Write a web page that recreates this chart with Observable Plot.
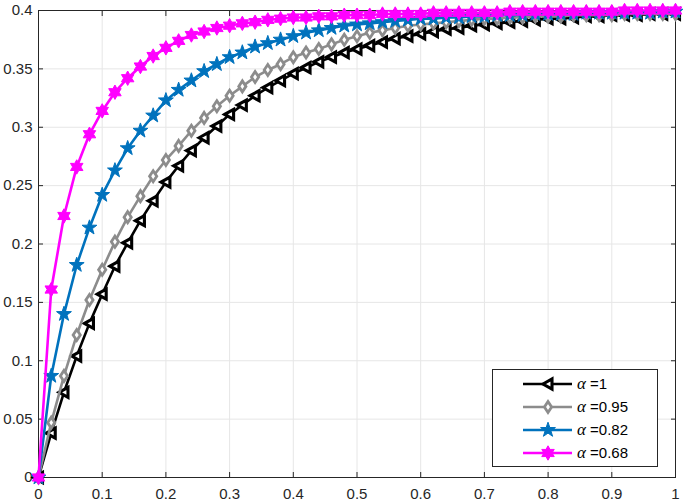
<!DOCTYPE html>
<html><head><meta charset="utf-8">
<script src="https://cdn.jsdelivr.net/npm/d3@7"></script>
<script src="https://cdn.jsdelivr.net/npm/@observablehq/plot@0.6"></script>
<style>body{margin:0;background:#fff} svg{display:block}</style>
</head><body><div id="chart"></div>
<script>
const tValues = [0,0.02,0.04,0.06,0.08,0.1,0.12,0.14,0.16,0.18,0.2,0.22,0.24,0.26,0.28,0.3,0.32,0.34,0.36,0.38,0.4,0.42,0.44,0.46,0.48,0.5,0.52,0.54,0.56,0.58,0.6,0.62,0.64,0.66,0.68,0.7,0.72,0.74,0.76,0.78,0.8,0.82,0.84,0.86,0.88,0.9,0.92,0.94,0.96,0.98,1];
const alpha100 = [0,0.038,0.073,0.104,0.132,0.157,0.181,0.201,0.220,0.237,0.253,0.267,0.280,0.291,0.301,0.311,0.319,0.327,0.334,0.340,0.346,0.351,0.356,0.360,0.364,0.367,0.370,0.373,0.376,0.378,0.380,0.382,0.384,0.385,0.387,0.388,0.389,0.390,0.391,0.392,0.393,0.393,0.394,0.395,0.395,0.396,0.396,0.396,0.397,0.397,0.397];
const alpha095 = [0,0.047,0.087,0.122,0.152,0.178,0.202,0.223,0.241,0.258,0.272,0.284,0.297,0.308,0.318,0.327,0.335,0.343,0.349,0.354,0.360,0.364,0.367,0.371,0.375,0.378,0.381,0.383,0.385,0.387,0.388,0.389,0.390,0.391,0.392,0.393,0.393,0.394,0.394,0.395,0.395,0.395,0.396,0.396,0.396,0.396,0.397,0.397,0.397,0.397,0.397];
const alpha082 = [0,0.087,0.140,0.182,0.214,0.242,0.263,0.282,0.297,0.310,0.323,0.332,0.340,0.348,0.354,0.360,0.364,0.369,0.372,0.375,0.378,0.381,0.383,0.385,0.387,0.388,0.389,0.390,0.391,0.392,0.393,0.393,0.394,0.394,0.395,0.395,0.396,0.396,0.396,0.397,0.397,0.397,0.397,0.398,0.398,0.398,0.398,0.398,0.398,0.399,0.399];
const alpha068 = [0,0.161,0.224,0.266,0.294,0.314,0.330,0.342,0.352,0.361,0.368,0.374,0.379,0.382,0.385,0.387,0.389,0.390,0.392,0.393,0.394,0.394,0.395,0.395,0.396,0.396,0.396,0.397,0.397,0.397,0.397,0.398,0.398,0.398,0.398,0.398,0.398,0.399,0.399,0.399,0.399,0.399,0.399,0.399,0.399,0.399,0.400,0.400,0.400,0.400,0.400];
const seriesNames = ["=1", "=0.95", "=0.82", "=0.68"];
const seriesColors = ["#000000", "#8c8c8c", "#0072bd", "#ff00ff"];
const xTicks = [0,0.1,0.2,0.3,0.4,0.5,0.6,0.7,0.8,0.9,1];
const yTicks = [0,0.05,0.1,0.15,0.2,0.25,0.3,0.35,0.4];

function polySymbol(pts) {
  return {draw(ctx, size) {
    const k = Math.sqrt(size / Math.PI);
    pts.forEach(([x, y], i) => i ? ctx.lineTo(x * k, y * k) : ctx.moveTo(x * k, y * k));
    ctx.closePath();
  }};
}
function starPts(n, R, r0) {
  const p = [];
  for (let i = 0; i < 2 * n; i++) {
    const a = -Math.PI / 2 + i * Math.PI / n;
    const rr = i % 2 ? r0 : R;
    p.push([rr * Math.cos(a), rr * Math.sin(a)]);
  }
  return p;
}
const symbols = [
  polySymbol([[-5, 0], [4, -5], [4, 5]]),
  polySymbol([[0, -5.5], [3.6, 0], [0, 5.5], [-3.6, 0]]),
  polySymbol(starPts(5, 7.8, 3.1)),
  polySymbol(starPts(6, 7.2, 4.1))
];
const fills = ["#ffffff", "#ffffff", "#0072bd", "#ff00ff"];
const sws = [3.1, 2.8, 1, 1];
const seriesData = [alpha100, alpha095, alpha082, alpha068].map(arr => tValues.map((t, i) => ({t, y: arr[i]})));

const fmt = d => String(+d.toFixed(2));
const axisColor = "#262626";
const marks = [
  Plot.gridX(xTicks, {stroke: "#e6e6e6", strokeOpacity: 1}),
  Plot.gridY(yTicks, {stroke: "#e6e6e6", strokeOpacity: 1}),
  Plot.frame({stroke: axisColor}),
  Plot.axisX(xTicks, {anchor: "bottom", tickSize: -5, tickPadding: 16, tickFormat: fmt, color: axisColor, label: null}),
  Plot.axisX(xTicks, {anchor: "top", tickSize: -5, tickFormat: () => "", color: axisColor, label: null}),
  Plot.axisY(yTicks, {anchor: "left", tickSize: -5, tickPadding: 11, tickFormat: fmt, color: axisColor, label: null}),
  Plot.axisY(yTicks, {anchor: "right", tickSize: -5, tickFormat: () => "", color: axisColor, label: null})
];
seriesData.forEach((rows, i) => {
  marks.push(Plot.line(rows, {x: "t", y: "y", stroke: seriesColors[i], strokeWidth: 2.6}));
  marks.push(Plot.dot(rows, {x: "t", y: "y", symbol: symbols[i], r: 1, stroke: seriesColors[i], fill: fills[i], strokeWidth: sws[i]}));
});

const chart = Plot.plot({
  width: 685, height: 502,
  marginLeft: 38, marginRight: 10, marginTop: 10, marginBottom: 25,
  x: {domain: [0, 1]},
  y: {domain: [0, 0.4]},
  style: {fontFamily: "'Liberation Sans', Arial, sans-serif", fontSize: "15px", background: "#fff"},
  marks
});
document.getElementById("chart").append(chart);

// legend
const svg = d3.select(chart);
const lg = svg.append("g");
lg.append("rect").attr("x", 492.5).attr("y", 369.5).attr("width", 165).attr("height", 97)
  .attr("fill", "#fff").attr("stroke", axisColor).attr("stroke-width", 1);
const rowY = [384, 407, 430, 453];
seriesNames.forEach((name, i) => {
  const y = rowY[i];
  lg.append("line").attr("x1", 523).attr("x2", 572).attr("y1", y).attr("y2", y)
    .attr("stroke", seriesColors[i]).attr("stroke-width", 2.6);
  const p = d3.path();
  symbols[i].draw(p, Math.PI);
  lg.append("path").attr("d", p.toString()).attr("transform", `translate(548,${y})`)
    .attr("fill", fills[i]).attr("stroke", seriesColors[i]).attr("stroke-width", sws[i]);
  const tx = lg.append("text").attr("x", 577).attr("y", y).attr("dy", "0.35em")
    .attr("text-anchor", "start").attr("fill", "#000").attr("font-size", 15);
  tx.append("tspan").attr("font-family", "'Liberation Serif', serif").attr("font-style", "italic").attr("font-size", 17).text("α");
  tx.append("tspan").attr("font-family", "'Liberation Sans', Arial, sans-serif").text(" " + name);
});
</script></body></html>
